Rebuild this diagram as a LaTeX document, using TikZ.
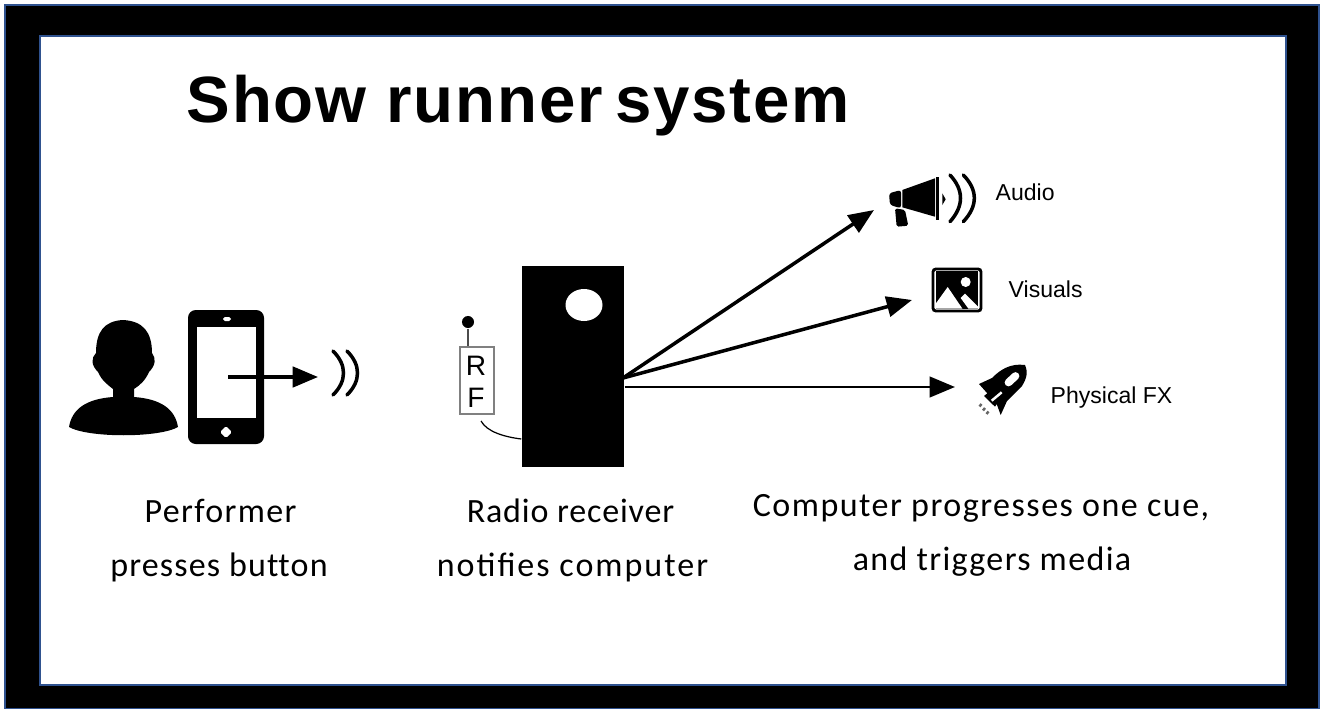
\documentclass[tikz,border=0pt]{standalone}
\usepackage{fontspec}
\setmainfont{Carlito}
\newfontfamily\titlefont[LetterSpace=2.8]{Liberation Sans}
\newfontfamily\labelfont{Liberation Sans}
\usetikzlibrary{arrows.meta}
\definecolor{framerim}{RGB}{47,82,143}
\tikzset{
  captionline/.style={anchor=base, inner sep=0, font=\fontsize{9.67}{11}\selectfont\addfontfeature{LetterSpace=#1}},
  medialabel/.style={anchor=base west, inner sep=0, font=\labelfont\fontsize{6.55}{8}\selectfont},
  rfletter/.style={anchor=base, inner sep=0, font=\labelfont\fontsize{8}{9}\selectfont},
  cuearrow/.style={line width=1pt, -{Triangle[length=7.2pt,width=5.8pt]}},
  wave/.style={line width=1pt, line cap=round},
}
\begin{document}
\begin{tikzpicture}[x=0.01cm,y=-0.01cm]
\useasboundingbox (0,0) rectangle (1320,709);
% frame
\filldraw [fill=black, draw=framerim, line width=0.3pt] (5,5) rectangle (1319,709);
\filldraw [fill=white, draw=framerim, line width=0.4pt] (40,36) rectangle (1286,685);

\node [anchor=base west, inner sep=0, font=\titlefont\bfseries\fontsize{18.6}{20}\selectfont] (title) at (186,122) {Show runner\kern-2.2pt{} system};

% performer
\fill (123,320) .. controls (104,321) and (96,332) .. (96,353) .. controls (91,358) and (91,365) .. (98,372)
  .. controls (102,381) and (108,385) .. (113,389) -- (113,397) .. controls (86,399) and (72,409) .. (69,427)
  .. controls (88,438) and (159,438) .. (178,427) .. controls (175,409) and (161,399) .. (134,397)
  -- (134,389) .. controls (140,385) and (145,381) .. (149,372) .. controls (156,365) and (156,358) .. (152,353)
  .. controls (152,332) and (143,321) .. (123,320) -- cycle;

% phone
\fill [rounded corners=2.2pt] (188,310) rectangle (264,444);
\fill [white] (197,327) rectangle (256,418);
\fill [white, rounded corners=0.5pt] (223,317) rectangle (231,321);
\fill [white, rounded corners=0.5pt] (226,426) -- (232,432) -- (226,438) -- (220,432) -- cycle;
\coordinate (press) at (228,377);
\coordinate (presstip) at (318,377);
\draw [cuearrow] (press) -- (presstip);
\draw [wave] (333,351) .. controls (347,365) and (347,381) .. (333,395);
\draw [wave] (347,351) .. controls (361,365) and (361,381) .. (347,395);

% receiver
\node [draw=black!50, line width=0.4pt, minimum width=0.34cm, minimum height=0.67cm, inner sep=0] (rf) at (477,380.5) {};
\node [rfletter] (rfr) at (476,375) {R};
\node [rfletter] (rff) at (476,407) {F};
\node [fill, circle, inner sep=0, minimum size=0.12cm] (aerial) at (468,322) {};
\draw [black!70, line width=0.8pt] (aerial) -- (aerial |- rf.north);

\node [fill=black, minimum width=1.02cm, minimum height=2.01cm, inner sep=0] (computer) at (573,366.5) {};
\fill [white] (584,305) ellipse [x radius=18.5, y radius=16];
\coordinate (lead) at (481,421);
\draw [line width=0.35pt] (lead) .. controls (487,432) and (505,437) .. (computer.west |- 0,439);

% outputs
\coordinate (cueout) at (623,378);
\coordinate (audiotip) at (874,210);
\coordinate (visualtip) at (912,300);
\coordinate (fxtip) at (955,387);
\draw [cuearrow] (cueout) -- (audiotip);
\draw [cuearrow] (cueout) -- (visualtip);
\draw [cuearrow, line width=0.85pt] (computer.east |- fxtip) -- (fxtip);

% megaphone
\fill [rounded corners=0.8pt] (889,193.3) -- (901,190) -- (901,208.3) -- (890,205) -- cycle;
\fill (902.3,190) -- (935,178.3) -- (935,216.7) -- (902.3,207.3) -- cycle;
\fill (936,176.7) rectangle (939.3,220);
\fill (942.3,193.3) -- (945.7,199.3) -- (942.3,205) -- cycle;
\fill [rounded corners=0.5pt] (895,208.3) -- (905,210) -- (908.3,225.7) -- (896.7,226.7) -- cycle;
\draw [wave] (950,175) .. controls (964,190) and (964,206) .. (950,221.7);
\draw [wave] (963.3,175) .. controls (978,190) and (978,206) .. (963.3,221.7);
\node [medialabel] (audio) at (995,200) {Audio};

% picture icon
\fill [white] (933,269) rectangle (981,311);
\fill (935.7,271.3) rectangle (978.3,308.5);
\fill [white] (935.7,303.7) -- (947.7,287) -- (962.3,308.5) -- (935.7,308.5) -- cycle;
\fill [white] (960.7,298) -- (965,293.7) -- (978.3,307) -- (978.3,308.5) -- (968.3,308.5) -- cycle;
\fill [white] (965.7,282) circle [radius=5];
\draw [line width=0.8pt, rounded corners=0.8pt] (933,269) rectangle (981,311);
\node [medialabel] (visuals) at (1008,297) {Visuals};

% rocket
\fill (1025,365) .. controls (1010,363) and (1000,370) .. (992,378) -- (979,384) -- (987.3,393.3)
  -- (984,396) -- (995,406.7) -- (996.7,404) -- (1000.7,415) -- (1007,401) -- (1022,386)
  .. controls (1027,378) and (1028,372) .. (1025,365) -- cycle;
\draw [white, line width=2.2pt, line cap=round] (1008.5,382.5) -- (1015.5,376);
\draw [white, line width=0.7pt] (991.7,400.7) -- (1001.7,392.3);
\draw [black!60, line width=0.7pt] (979.5,406.5) -- (981.5,404) (983,410.5) -- (985,408) (986.5,414) -- (988.5,411.5);
\node [medialabel] (fx) at (1050,403) {Physical FX};

% captions
\node [captionline=4] (cap1a) at (220.5,522) {Performer};
\node [captionline=3.4] (cap1b) at (219,576) {presses but\kern0pt ton};
\node [captionline=2.5] (cap2a) at (570.5,522) {Radio receiver};
\node [captionline=5.9] (cap2b) at (572.5,576) {notifies computer};
\node [captionline=4.4] (cap3a) at (981,516) {Computer progresses one cue,};
\node [captionline=4] (cap3b) at (992,570) {and triggers media};
\end{tikzpicture}
\end{document}
